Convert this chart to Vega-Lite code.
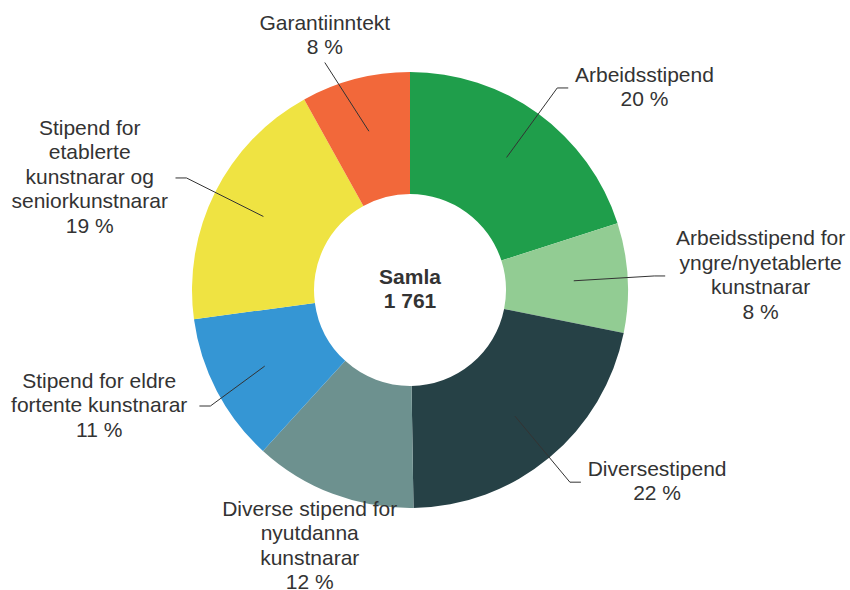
{
  "$schema": "https://vega.github.io/schema/vega-lite/v6.json",
  "width": 820,
  "height": 580,
  "autosize": {"type": "none"},
  "padding": {"left": 0, "top": 0, "right": 30, "bottom": 10},
  "background": "white",
  "config": {"view": {"stroke": null}},
  "data": {
    "values": [
      {"i": 1, "name": "Arbeidsstipend", "lbl": "Arbeidsstipend", "value": 353},
      {"i": 2, "name": "Arbeidsstipend for yngre/nyetablerte kunstnarar", "lbl": "Arbeidsstipend for\nyngre/nyetablerte\nkunstnarar", "value": 143},
      {"i": 3, "name": "Diversestipend", "lbl": "Diversestipend", "value": 380},
      {"i": 4, "name": "Diverse stipend for nyutdanna kunstnarar", "lbl": "Diverse stipend for\nnyutdanna\nkunstnarar", "value": 212},
      {"i": 5, "name": "Stipend for eldre fortente kunstnarar", "lbl": "Stipend for eldre\nfortente kunstnarar", "value": 195},
      {"i": 6, "name": "Stipend for etablerte kunstnarar og seniorkunstnarar", "lbl": "Stipend for\netablerte\nkunstnarar og\nseniorkunstnarar", "value": 336},
      {"i": 7, "name": "Garantiinntekt", "lbl": "Garantiinntekt", "value": 142}
    ]
  },
  "transform": [
    {"window": [{"op": "sum", "field": "value", "as": "cum"}], "sort": [{"field": "i"}], "frame": [null, 0]},
    {"joinaggregate": [{"op": "sum", "field": "value", "as": "total"}]},
    {"calculate": "datum.lbl + '\\n' + format(100*datum.value/datum.total, '.0f') + ' %'", "as": "label"},
    {"calculate": "2*PI*(datum.cum - datum.value/2)/datum.total", "as": "a"},
    {"calculate": "sin(datum.a)", "as": "s"},
    {"calculate": "cos(datum.a)", "as": "c"},
    {"calculate": "datum.s > 0.5 ? 'right' : (datum.s < -0.5 ? 'left' : (datum.c > 0 ? 'top' : 'bottom'))", "as": "side"},
    {"calculate": "split(datum.label, '\\n')", "as": "lines"},
    {"calculate": "datum.lines.length", "as": "nl"},
    {"calculate": "max(length(datum.lines[0]), datum.nl > 1 ? length(datum.lines[1]) : 0, datum.nl > 2 ? length(datum.lines[2]) : 0, datum.nl > 3 ? length(datum.lines[3]) : 0, datum.nl > 4 ? length(datum.lines[4]) : 0)", "as": "maxc"},
    {"calculate": "4.8*datum.maxc", "as": "hw"},
    {"calculate": "164*datum.s", "as": "x1"},
    {"calculate": "164*datum.c", "as": "y1"},
    {"calculate": "datum.side == 'top' ? 340*datum.s : (datum.side == 'bottom' ? 283*datum.s : 250*datum.s)", "as": "x2a"},
    {"calculate": "datum.side == 'top' ? 235*datum.c : 250*datum.c", "as": "y2"},
    {"calculate": "datum.side == 'right' ? min(datum.x2a + 20 + datum.hw, 437 - datum.hw) : (datum.side == 'left' ? max(datum.x2a - 20 - datum.hw, -402 + datum.hw) : datum.x2a)", "as": "lx"},
    {"calculate": "datum.side == 'right' ? datum.lx - datum.hw - 9 : (datum.side == 'left' ? datum.lx + datum.hw + 9 : datum.x2a)", "as": "x3"},
    {"calculate": "datum.side == 'right' ? datum.x3 - 11 : (datum.side == 'left' ? datum.x3 + 11 : datum.x2a)", "as": "x2"},
    {"calculate": "datum.side == 'top' ? datum.y2 + 2 + 12.25*datum.nl : (datum.side == 'bottom' ? 222*datum.c - 12.25*datum.nl : datum.y2)", "as": "lcy"},
    {"calculate": "datum.lcy + 12.25*(datum.nl - 1)", "as": "ly"}
  ],
  "layer": [
    {
      "mark": {"type": "arc", "innerRadius": 96, "outerRadius": 218},
      "encoding": {
        "theta": {"field": "value", "type": "quantitative", "stack": true},
        "order": {"field": "i", "type": "quantitative"},
        "color": {
          "field": "name",
          "type": "nominal",
          "legend": null,
          "scale": {
            "domain": [
              "Arbeidsstipend",
              "Arbeidsstipend for yngre/nyetablerte kunstnarar",
              "Diversestipend",
              "Diverse stipend for nyutdanna kunstnarar",
              "Stipend for eldre fortente kunstnarar",
              "Stipend for etablerte kunstnarar og seniorkunstnarar",
              "Garantiinntekt"
            ],
            "range": ["#1f9e4b", "#92cc93", "#264146", "#6d918f", "#3596d4", "#efe342", "#f2683a"]
          }
        }
      }
    },
    {
      "transform": [{"filter": "datum.side != 'bottom'"}],
      "mark": {"type": "rule", "color": "#333333", "strokeWidth": 1},
      "encoding": {
        "x": {"field": "x1", "type": "quantitative", "scale": {"domain": [-410, 410], "nice": false, "zero": false}, "axis": null},
        "y": {"field": "y1", "type": "quantitative", "scale": {"domain": [-290, 290], "nice": false, "zero": false}, "axis": null},
        "x2": {"field": "x2"},
        "y2": {"field": "y2"}
      }
    },
    {
      "transform": [{"filter": "datum.side == 'left' || datum.side == 'right'"}],
      "mark": {"type": "rule", "color": "#333333", "strokeWidth": 1},
      "encoding": {
        "x": {"field": "x2", "type": "quantitative", "scale": {"domain": [-410, 410], "nice": false, "zero": false}, "axis": null},
        "y": {"field": "y2", "type": "quantitative", "scale": {"domain": [-290, 290], "nice": false, "zero": false}, "axis": null},
        "x2": {"field": "x3"}
      }
    },
    {
      "mark": {"type": "text", "align": "center", "baseline": "middle", "lineBreak": "\n", "fontSize": 21, "lineHeight": 24.5, "font": "Liberation Sans", "color": "#333333"},
      "encoding": {
        "x": {"field": "lx", "type": "quantitative", "scale": {"domain": [-410, 410], "nice": false, "zero": false}, "axis": null},
        "y": {"field": "ly", "type": "quantitative", "scale": {"domain": [-290, 290], "nice": false, "zero": false}, "axis": null},
        "text": {"field": "label"}
      }
    },
    {
      "data": {"values": [{"t": "Samla\n1 761"}]},
      "mark": {"type": "text", "align": "center", "baseline": "middle", "lineBreak": "\n", "fontSize": 21, "lineHeight": 24, "dy": -12, "font": "Liberation Sans", "fontWeight": "bold", "color": "#333333"},
      "encoding": {
        "x": {"datum": 0, "type": "quantitative", "scale": {"domain": [-410, 410], "nice": false, "zero": false}, "axis": null},
        "y": {"datum": 0, "type": "quantitative", "scale": {"domain": [-290, 290], "nice": false, "zero": false}, "axis": null},
        "text": {"field": "t"}
      }
    }
  ]
}
